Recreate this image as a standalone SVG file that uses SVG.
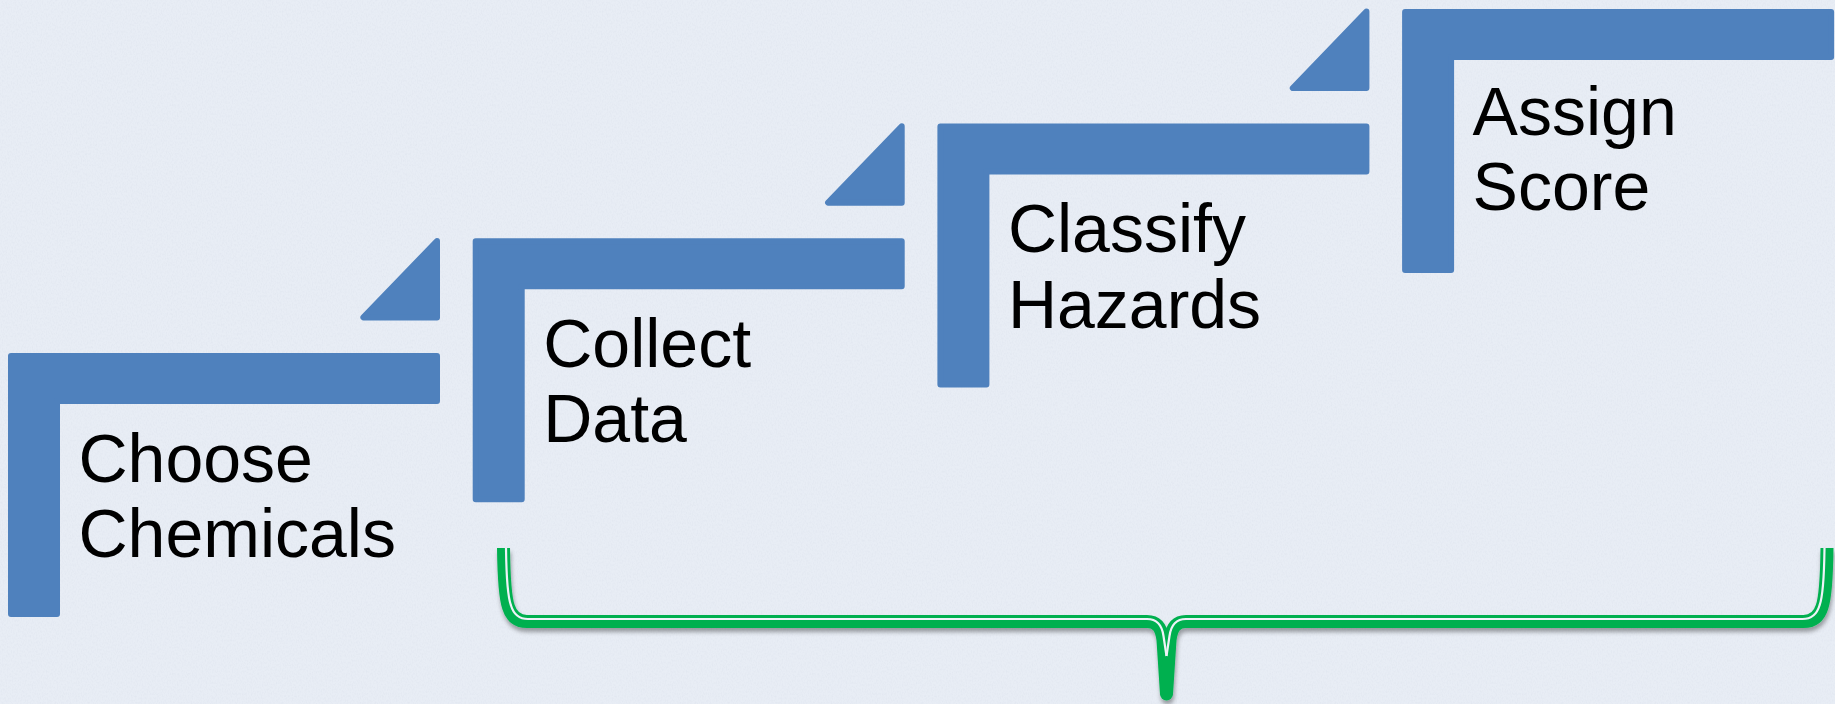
<svg xmlns="http://www.w3.org/2000/svg" width="1835" height="704" viewBox="0 0 1835 704">
  <defs>
    <style>
      .step { fill: #4F81BD; stroke: #4F81BD; stroke-width: 6; stroke-linejoin: round; }
      .lbl { font-family: "Liberation Sans", Arial, sans-serif; font-size: 68px; fill: #000000; }
      .brace { fill: none; stroke: #00B050; stroke-width: 13; stroke-linecap: butt; stroke-linejoin: round; }
      .gap { fill: none; stroke: #EEF2F8; stroke-width: 2.2; stroke-linecap: butt; stroke-linejoin: round; }
    </style>
    <filter id="shadow" x="-5%" y="-20%" width="110%" height="150%">
      <feDropShadow dx="1" dy="4" stdDeviation="2.2" flood-color="#000000" flood-opacity="0.35"/>
    </filter>
    <filter id="texture" x="0" y="0" width="100%" height="100%">
      <feTurbulence type="fractalNoise" baseFrequency="0.8 0.45" numOctaves="2" seed="3" result="n"/>
      <feColorMatrix in="n" type="matrix" values="0 0 0 0 0.55  0 0 0 0 0.6  0 0 0 0 0.7  0 0 0 -0.9 0.55"/>
    </filter>
    <path id="Lshape" d="M 11,356 L 437,356 L 437,401 L 57,401 L 57,614 L 11,614 Z"/>
    <path id="tri" d="M 437,317.4 L 437,241 L 363.4,317.4 Z"/>
  </defs>

  <rect x="0" y="0" width="1835" height="704" fill="#E8EDF5"/>
  <rect x="0" y="0" width="1835" height="704" filter="url(#texture)" opacity="0.35"/>

  <g id="step-choose-chemicals">
    <use href="#tri" class="step"/>
    <use href="#Lshape" class="step"/>
    <text class="lbl" x="78.5" y="481.5">Choose</text>
    <text class="lbl" x="78.5" y="557">Chemicals</text>
  </g>

  <g id="step-collect-data" transform="translate(464.7,-114.7)">
    <use href="#tri" class="step"/>
    <use href="#Lshape" class="step"/>
    <text class="lbl" x="78.5" y="481.5">Collect</text>
    <text class="lbl" x="78.5" y="557">Data</text>
  </g>

  <g id="step-classify-hazards" transform="translate(929.4,-229.4)">
    <use href="#tri" class="step"/>
    <use href="#Lshape" class="step"/>
    <text class="lbl" x="78.5" y="481.5">Classify</text>
    <text class="lbl" x="78.5" y="557">Hazards</text>
  </g>

  <g id="step-assign-score" transform="translate(1394.1,-344.1)">
    <use href="#Lshape" class="step"/>
    <text class="lbl" x="78.5" y="479">Assign</text>
    <text class="lbl" x="78.5" y="554.5">Score</text>
  </g>

  <g id="connectors" filter="url(#shadow)">
    <path class="brace" d="M 503.5,548 C 504,588 506,600 508.5,607 Q 513,621.5 527,621.5 L 1147,621.5 C 1157,621.5 1161.5,628 1163,640 L 1166.5,694"/>
    <path class="brace" d="M 1827,548 C 1826.5,588 1824.5,600 1822,607 Q 1817.5,621.5 1803.5,621.5 L 1186,621.5 C 1176,621.5 1171.5,628 1170,640 L 1166.5,694"/>
    <circle cx="1166.5" cy="694" r="6.5" fill="#00B050"/>
    <path class="gap" d="M 506,548 C 506.5,588 508.5,599 511,605.5 Q 515,619 528,619 L 1147,619 C 1157,619 1162,625 1163.5,636 L 1166.5,656"/>
    <path class="gap" d="M 1824.5,548 C 1824,588 1822,599 1819.5,605.5 Q 1815.5,619 1802.5,619 L 1186,619 C 1176,619 1171,625 1169.5,636 L 1166.5,656"/>
  </g>
</svg>
